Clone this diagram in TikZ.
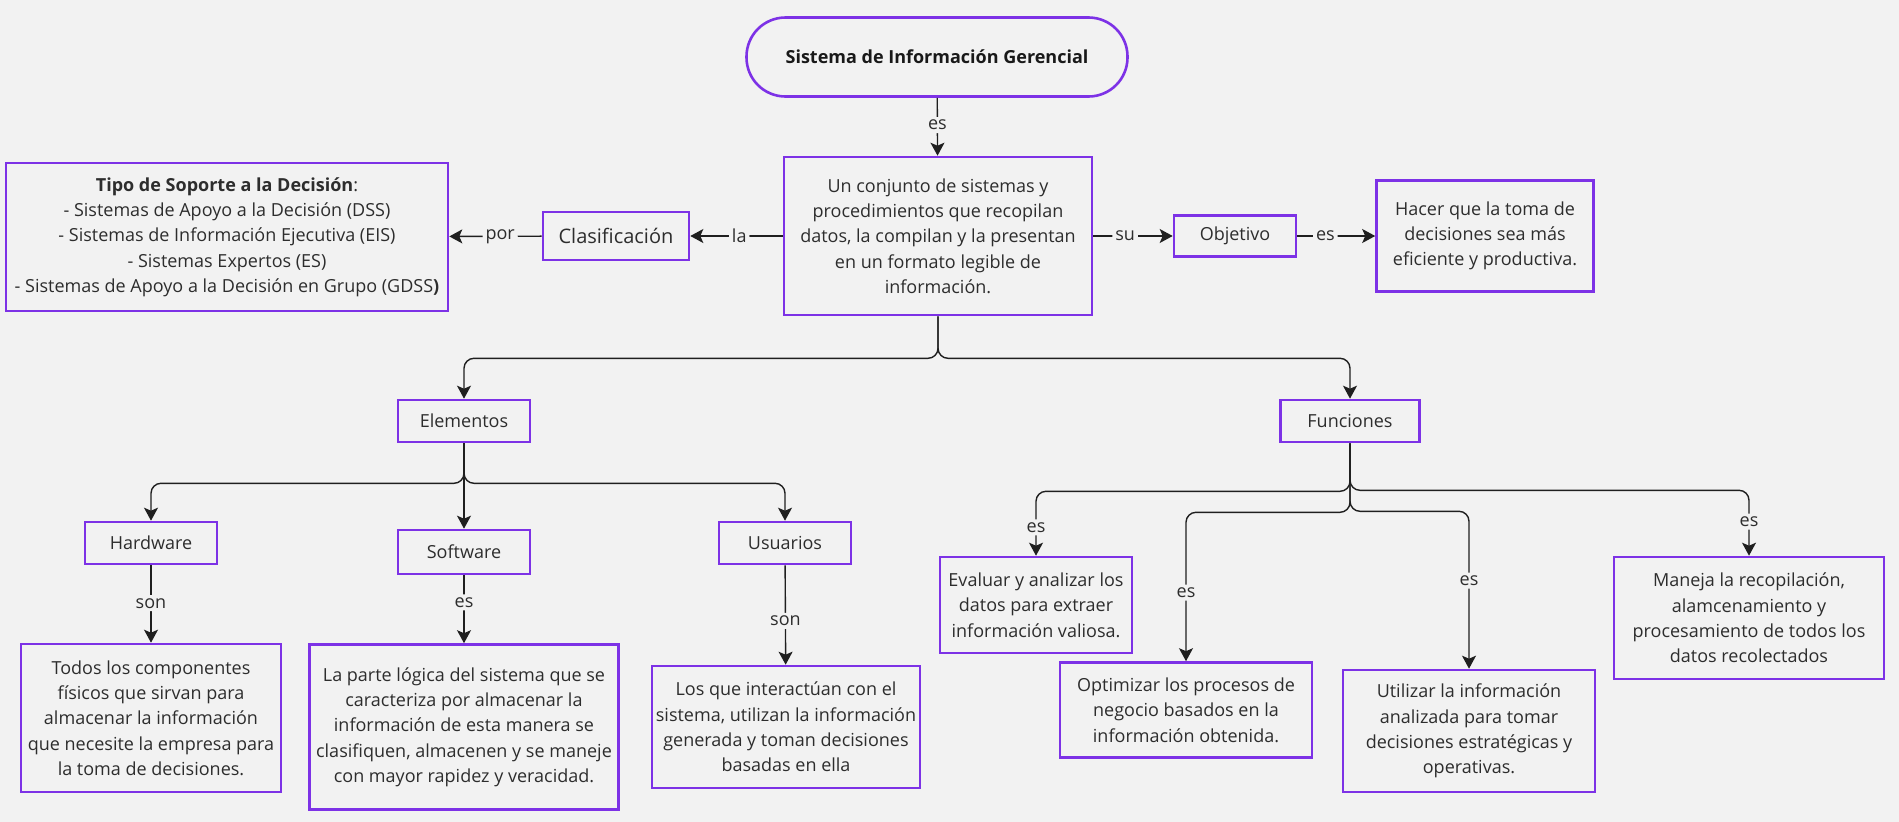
\documentclass[tikz,border=0pt]{standalone}
\usepackage{fontspec}
\setmainfont{Open Sans}
\usetikzlibrary{arrows.meta,positioning}
\definecolor{MiroPurple}{RGB}{125,50,230}
\definecolor{PaperGray}{RGB}{242,242,242}
\definecolor{InkGray}{RGB}{45,45,45}

\begin{document}
\begin{tikzpicture}[x=1pt,y=-1pt,>={Stealth[length=13pt,width=14pt,inset=3pt]},
    concept/.style={draw=MiroPurple,line width=2.6pt,fill=PaperGray,align=center,
      inner sep=0pt,text=InkGray,font=\fontsize{18}{25.3}\selectfont},
    size/.style 2 args={minimum width=#1,minimum height=#2},
    link/.style={->,line width=1.4pt,draw=black!88,rounded corners=10pt},
    word/.style={fill=PaperGray,inner sep=3pt,text=InkGray,font=\fontsize{18}{22}\selectfont}]
  \fill[PaperGray] (0,0) rectangle (1899,822);
  \useasboundingbox (0,0) rectangle (1899,822);

  % upper row
  \node[concept,size={381pt}{79pt},rounded corners=39pt,text=black!90] (sig) at (937,57)
    {\textbf{Sistema de Información Gerencial}};
  \node[concept,size={308pt}{158pt}] (def) at (938,236)
    {Un conjunto de sistemas y\\procedimientos que recopilan\\datos, la compilan y la presentan\\en un formato legible de\\información.};
  \node[concept,size={146pt}{48pt},font=\fontsize{20}{26}\selectfont] (clas) at (616,236) {Clasificación};
  \node[concept,size={442pt}{148pt}] (tipo) at (227,237)
    {\textbf{Tipo de Soporte a la Decisión}:\\- Sistemas de Apoyo a la Decisión (DSS)\\- Sistemas de Información Ejecutiva (EIS)\\- Sistemas Expertos (ES)\\- Sistemas de Apoyo a la Decisión en Grupo (GDSS\textbf{)}};
  \node[concept,size={122pt}{41pt}] (obj) at (1235,236) {Objetivo};
  \node[concept,size={217pt}{111pt}] (meta) at (1485,236)
    {Hacer que la toma de\\decisiones sea más\\eficiente y productiva.};

  % middle row
  \node[concept,size={132pt}{42pt}] (elem) at (464,421) {Elementos};
  \node[concept,size={139pt}{42pt}] (func) at (1350,421) {Funciones};
  \node[concept,size={132pt}{42pt}] (hard) at (151,543) {Hardware};
  \node[concept,size={132pt}{44pt}] (soft) at (464,552) {Software};
  \node[concept,size={132pt}{42pt}] (user) at (785,543) {Usuarios};

  % lower row
  \node[concept,size={260pt}{148pt}] (hardtxt) at (151,718)
    {Todos los componentes\\físicos que sirvan para\\almacenar la información\\que necesite la empresa para\\la toma de decisiones.};
  \node[concept,size={309pt}{165pt}] (softtxt) at (464,727)
    {La parte lógica del sistema que se\\caracteriza por almacenar la\\información de esta manera se\\clasifiquen, almacenen y se maneje\\con mayor rapidez y veracidad.};
  \node[concept,size={268pt}{122pt}] (usertxt) at (786,727)
    {Los que interactúan con el\\sistema, utilizan la información\\generada y toman decisiones\\basadas en ella};
  \node[concept,size={192pt}{96pt}] (fun1) at (1036,605)
    {Evaluar y analizar los\\datos para extraer\\información valiosa.};
  \node[concept,size={252pt}{95pt}] (fun2) at (1186,710)
    {Optimizar los procesos de\\negocio basados en la\\información obtenida.};
  \node[concept,size={252pt}{122pt}] (fun3) at (1469,731)
    {Utilizar la información\\analizada para tomar\\decisiones estratégicas y\\operativas.};
  \node[concept,size={270pt}{122pt}] (fun4) at (1749,618)
    {Maneja la recopilación,\\alamcenamiento y\\procesamiento de todos los\\datos recolectados};

  % connectors
  \draw[link] (sig) -- node[word,pos=0.47] {es} (def);
  \draw[link] (def) -- node[word,pos=0.47] {la} (clas);
  \draw[link] (clas) -- node[word,pos=0.45] {por} (tipo);
  \draw[link] (def) -- node[word,pos=0.4] {su} (obj);
  \draw[link] (obj) -- node[word,pos=0.36] {es} (meta);

  \draw[link] (def.south) -- ++(0,42) -| (elem.north);
  \draw[link] (def.south) -- ++(0,42) -| (func.north);

  \draw[link] (elem.south) -- ++(0,40) -| (hard.north);
  \draw[link] (elem.south) -- (soft.north);
  \draw[link] (elem.south) -- ++(0,40) -| (user.north);
  \draw[link] (hard) -- node[word,pos=0.49] {son} (hardtxt);
  \draw[link] (soft) -- node[word,pos=0.4] {es} (softtxt);
  \draw[link] (user) -- node[word,pos=0.56] {son} (usertxt);

  \draw[link] (func.south) -- ++(0,48) -| node[word,pos=0.78] {es} (fun1.north);
  \draw[link] (func.south) -- ++(0,69) -| node[word,pos=0.77] {es} (fun2.north);
  \draw[link] (func.south) -- ++(0,68) -| node[word,pos=0.72] {es} (fun3.north);
  \draw[link] (func.south) -- ++(0,47) -| node[word,pos=0.74] {es} (fun4.north);
\end{tikzpicture}
\end{document}
